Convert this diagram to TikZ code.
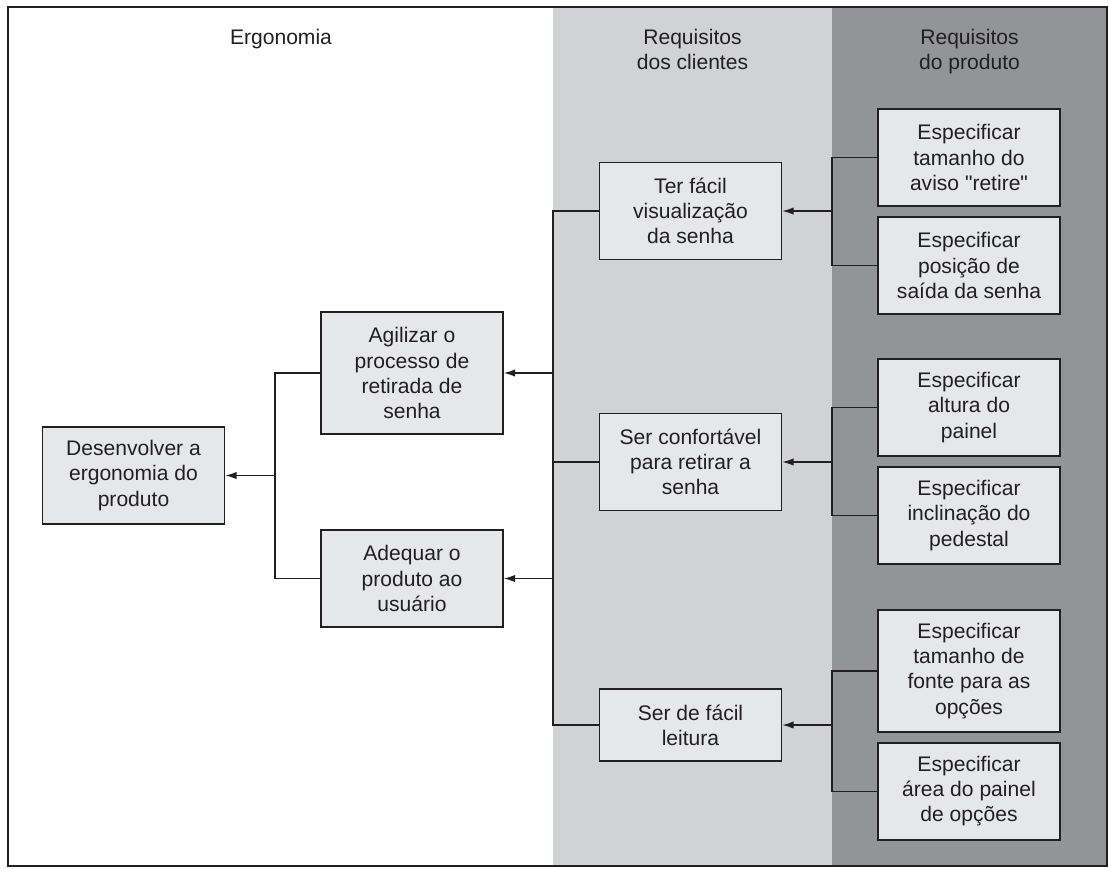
\documentclass[tikz,border=0pt]{standalone}
\usepackage{fontspec}
\setmainfont{Liberation Sans}
\usetikzlibrary{arrows.meta}
\definecolor{midgray}{HTML}{D1D2D4}
\definecolor{deepgray}{HTML}{939498}
\definecolor{boxfill}{HTML}{E6E7E8}
\definecolor{ink}{HTML}{231F20}
\begin{document}
\begin{tikzpicture}[x=0.75pt,y=-0.75pt,
  txt/.style={font=\fontsize{15.8}{18.8}\selectfont, text=ink, align=center},
  head/.style={txt, anchor=north, inner sep=0pt},
  box/.style={txt, draw=ink, line width=1.1pt, fill=boxfill, inner sep=0pt,
    minimum width=136.5pt},
  hthree/.style={box, minimum height=72.75pt},
  hfour/.style={box, minimum height=91.5pt},
  htwo/.style={box, minimum height=54pt},
  conn/.style={draw=ink, line width=1.1pt},
  arr/.style={conn, -{Latex[length=8.5pt,width=5.5pt]}}
]
\useasboundingbox (0,0) rectangle (1109,868);
\fill[white] (0,0) rectangle (1109,868);
\fill[midgray] (553,7) rectangle (832,866);
\fill[deepgray] (832,7) rectangle (1107,866);
\draw[ink, line width=1.3pt] (8,7) rectangle (1107,866);

% headers
\node[head] (h1) at (281,29) {Ergonomia};
\node[head] (h2) at (692.5,29) {Requisitos\\dos clientes};
\node[head] (h3) at (969.5,29) {Requisitos\\do produto};

% boxes
\node[hthree] (des) at (133.5,475.5) {Desenvolver a\\ergonomia do\\produto};
\node[hfour]  (agi) at (412,373) {Agilizar o\\processo de\\retirada de\\senha};
\node[hthree] (ade) at (412,578.5) {Adequar o\\produto ao\\usuário};

\node[hthree] (ter)  at (690.5,211) {Ter fácil\\visualização\\da senha};
\node[hthree] (conf) at (690.5,462) {Ser confortável\\para retirar a\\senha};
\node[htwo]   (leit) at (690.5,725) {Ser de fácil\\leitura};

\node[hthree] (s1) at (969,157.5) {Especificar\\tamanho do\\aviso \textquotedbl retire\textquotedbl};
\node[hthree] (s2) at (969,265.5) {Especificar\\posição de\\saída da senha};
\node[hthree] (s3) at (969,407.5) {Especificar\\altura do\\painel};
\node[hthree] (s4) at (969,515.5) {Especificar\\inclinação do\\pedestal};
\node[hfour]  (s5) at (969,671) {Especificar\\tamanho de\\fonte para as\\opções};
\node[hthree] (s6) at (969,791.5) {Especificar\\área do painel\\de opções};

% junction coordinates
\coordinate (j1) at (275,475.5);
\coordinate (j2) at (553,725);
\coordinate (ja) at (832,211);
\coordinate (jb) at (832,462);
\coordinate (jc) at (832,725);

% left tree
\draw[conn] (agi.west) -| (j1) |- (ade.west);
\draw[arr] (j1) -- (des.east);

% middle tree
\draw[conn] (ter.west) -| (j2) -- (leit.west);
\draw[conn] (conf.west) -- (conf.west -| j2);
\draw[arr] (agi.east -| j2) -- (agi.east);
\draw[arr] (ade.east -| j2) -- (ade.east);

% right trees
\draw[conn] (s1.west) -| (ja) |- (s2.west);
\draw[arr] (ja) -- (ter.east);
\draw[conn] (s3.west) -| (jb) |- (s4.west);
\draw[arr] (jb) -- (conf.east);
\draw[conn] (s5.west) -| (jc) |- (s6.west);
\draw[arr] (jc) -- (leit.east);
\end{tikzpicture}
\end{document}
